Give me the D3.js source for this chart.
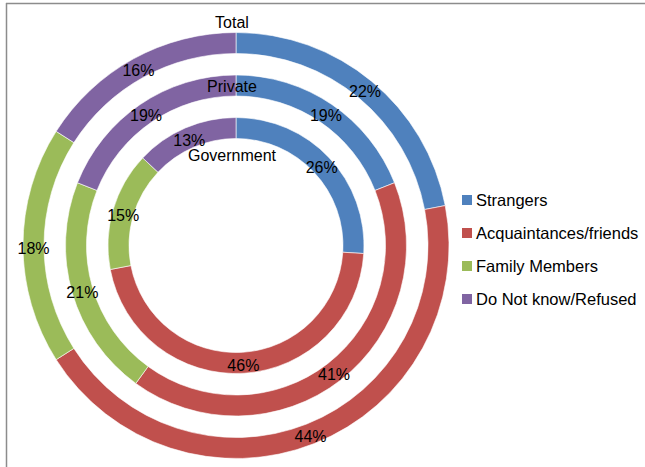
<!DOCTYPE html>
<html>
<head>
<meta charset="utf-8">
<script src="https://cdn.jsdelivr.net/npm/d3@7"></script>
<style>
  body { margin: 0; background: #fff; }
  text { font-family: "Liberation Sans", Arial, sans-serif; fill: #000; }
</style>
</head>
<body>
<div id="chart"></div>
<script>
// categories + ring series (outer -> inner)
const categories = ["Strangers", "Acquaintances/friends", "Family Members", "Do Not know/Refused"];
const ringNames = ["Total", "Private", "Government"];
const totalVals = [22, 44, 18, 16];
const privateVals = [19, 41, 21, 19];
const governmentVals = [26, 46, 15, 13];
const colors = ["#4f81bd", "#c0504d", "#9bbb59", "#8064a2"];

const W = 645, H = 467;
const cx = 236, cy = 245.5;
const svg = d3.select("#chart").append("svg")
  .attr("width", W)
  .attr("height", H);

// frame lines (left + top)
svg.append("line").attr("x1", 6.5).attr("x2", 6.5).attr("y1", 3).attr("y2", H)
  .attr("stroke", "#8c8c8c").attr("stroke-width", 1.5);
svg.append("line").attr("x1", 6).attr("x2", W).attr("y1", 3.5).attr("y2", 3.5)
  .attr("stroke", "#8c8c8c").attr("stroke-width", 1.5);

const color = d3.scaleOrdinal().domain(categories).range(colors);
const pie = d3.pie().sort(null).value(d => d.v);

const rings = [totalVals, privateVals, governmentVals];
const outerR = [213, 170.5, 128];
const thick = 21;
// title offsets (y) for the ring name labels
const titleY = [22, 86, 155];

const g = svg.append("g").attr("transform", `translate(${cx},${cy})`);

rings.forEach((vals, i) => {
  const arc = d3.arc().innerRadius(outerR[i] - thick).outerRadius(outerR[i]);
  const arcs = pie(vals.map((v, j) => ({ v, cat: categories[j] })));
  const rg = g.append("g");
  rg.selectAll("path")
    .data(arcs)
    .enter()
    .append("path")
    .attr("d", arc)
    .attr("fill", d => color(d.data.cat))
    .attr("stroke", "#fff")
    .attr("stroke-width", 0.6);
  rg.selectAll("text")
    .data(arcs)
    .enter()
    .append("text")
    .attr("transform", d => `translate(${arc.centroid(d)})`)
    .attr("text-anchor", "middle")
    .attr("dy", "0.5em")
    .style("font-size", "16px")
    .text(d => d.data.v + "%");
  svg.append("text")
    .attr("x", cx - 4)
    .attr("y", titleY[i])
    .attr("text-anchor", "middle")
    .attr("dy", "0.35em")
    .style("font-size", "16px")
    .text(ringNames[i]);
});

// legend
const legend = svg.append("g").attr("transform", "translate(462,200)");
const rowY = d3.scalePoint().domain(categories).range([0, 99]);
const items = legend.selectAll("g")
  .data(categories)
  .enter()
  .append("g")
  .attr("transform", d => `translate(0,${rowY(d)})`);
items.append("rect")
  .attr("x", 0).attr("y", -5)
  .attr("width", 10).attr("height", 10)
  .attr("fill", d => color(d));
items.append("text")
  .attr("x", 14)
  .attr("dy", "0.35em")
  .style("font-size", "16.5px")
  .text(d => d);
</script>
</body>
</html>
